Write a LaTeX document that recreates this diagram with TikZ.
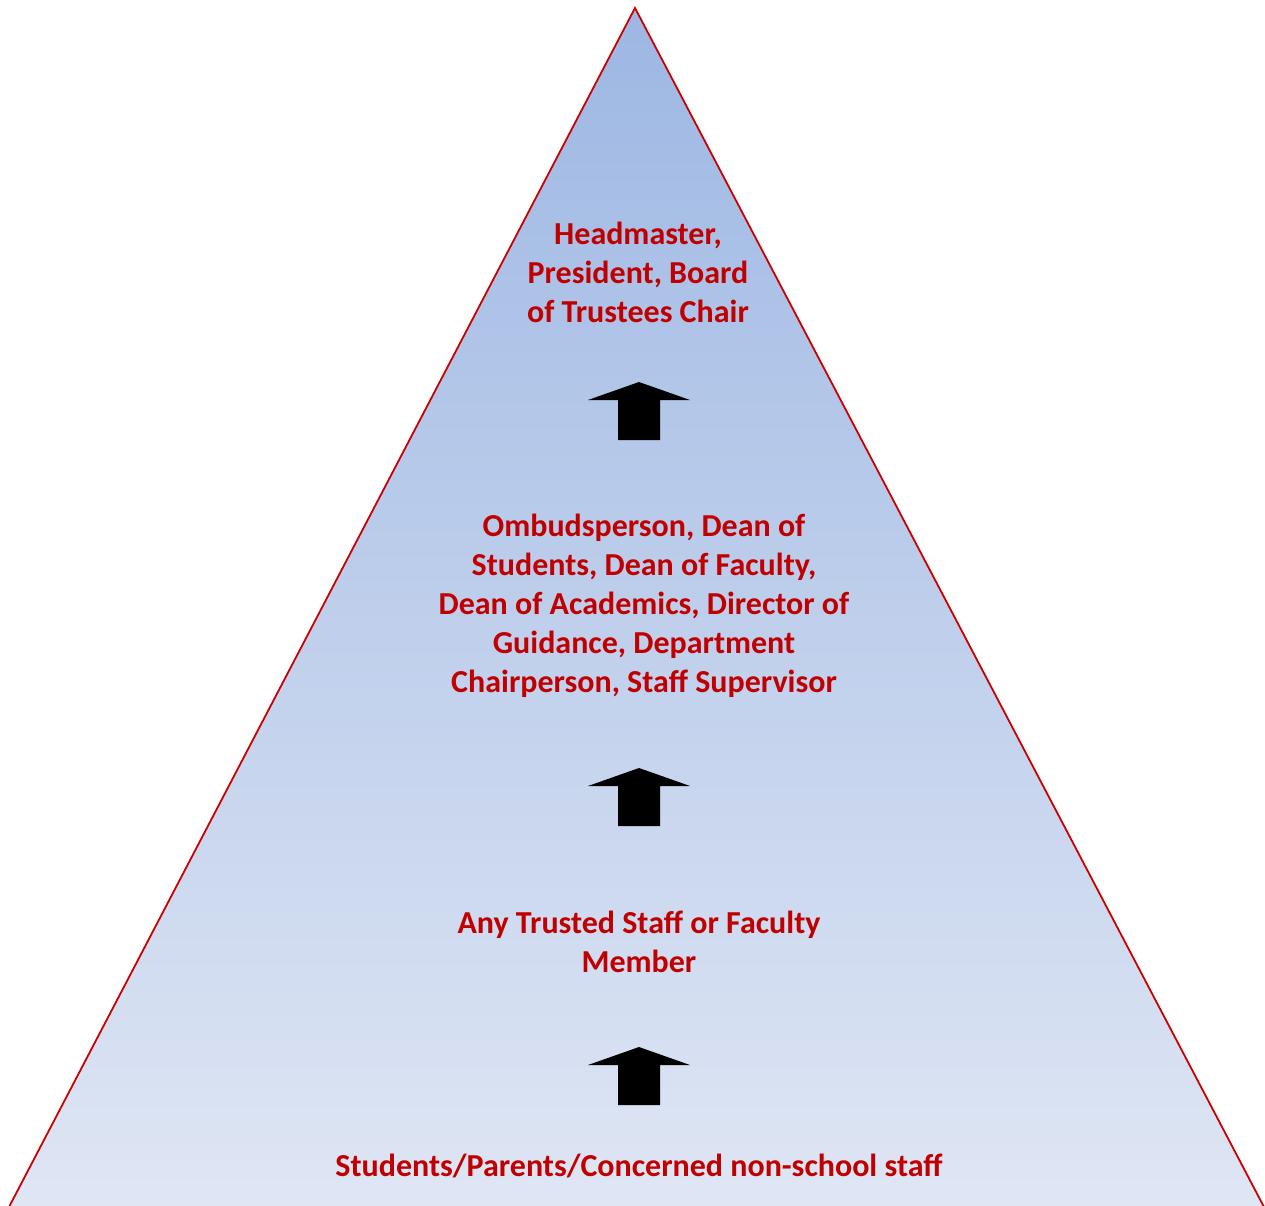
\documentclass[tikz,border=0pt]{standalone}
\usepackage{fontspec}
\setmainfont{Carlito}
\definecolor{txtred}{HTML}{C00000}
\definecolor{edgered}{HTML}{CC0000}
\definecolor{topblue}{HTML}{9DB7E3}
\definecolor{botblue}{HTML}{DFE6F4}
\tikzset{
  lbl/.style={text=txtred, font=\fontsize{32}{39}\selectfont\bfseries, align=center, inner sep=0pt}
}
\newcommand{\bigup}[2]{%
  \fill[black] (#1-51,#2+18) -- (#1,#2) -- (#1+51,#2+18) -- (#1+21,#2+18) -- (#1+21,#2+58) -- (#1-21,#2+58) -- (#1-21,#2+18) -- cycle;}
\begin{document}
\begin{tikzpicture}[x=1pt,y=-1pt]
\useasboundingbox (0,0) rectangle (1265,1205);
\coordinate (apex) at (635,8);
\coordinate (bl) at (9,1207);
\coordinate (br) at (1264,1207);
\shade[top color=topblue, bottom color=botblue] (apex) -- (bl) -- (br) -- cycle;
\draw[edgered, line width=1.8pt, line join=miter] (bl) -- (apex) -- (br);
\node[lbl] (top) at (638,272) {Headmaster,\\President, Board\\of Trustees Chair};
\node[lbl] (mid) at (644,606) {Ombudsperson, Dean of\\Students, Dean of Faculty,\\Dean of Academics, Director of\\Guidance, Department\\Chairperson, Staff Supervisor};
\node[lbl] (any) at (639,942) {Any Trusted Staff or Faculty\\Member};
\node[lbl] (bot) at (639,1166) {Students/Parents/Concerned non-school staff};
\bigup{639}{382}
\bigup{639}{768}
\bigup{639}{1047}
\end{tikzpicture}
\end{document}
